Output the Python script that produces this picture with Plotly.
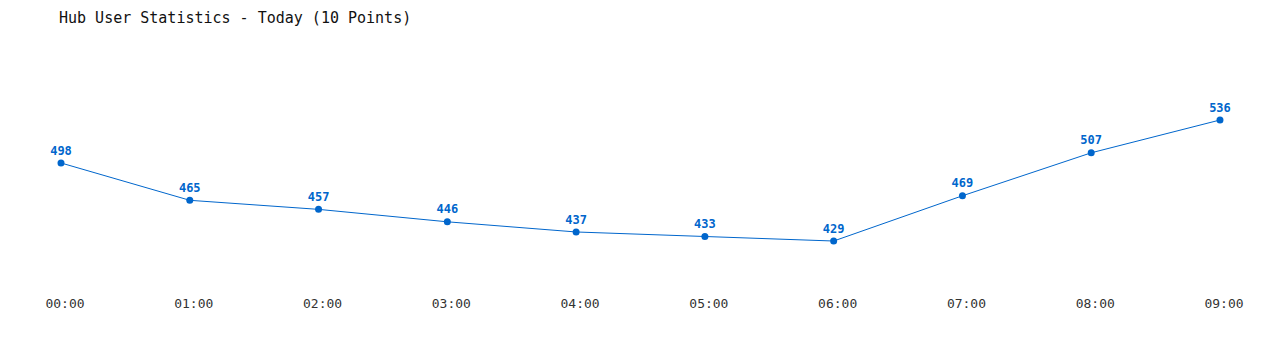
import plotly.graph_objects as go

hours = ["00:00", "01:00", "02:00", "03:00", "04:00", "05:00", "06:00", "07:00", "08:00", "09:00"]
users = [498, 465, 457, 446, 437, 433, 429, 469, 507, 536]
title_text = "Hub User Statistics - Today (10 Points)"

xs = list(range(len(hours)))
BLUE = "#0066cc"
MONO = "DejaVu Sans Mono, Liberation Mono, monospace"

fig = go.Figure()
fig.add_trace(go.Scatter(
    x=xs, y=users, mode="lines+markers+text",
    line=dict(color=BLUE, width=1),
    marker=dict(color=BLUE, size=7),
    text=[f"<b>{v}</b>" for v in users],
    textposition="top center",
    textfont=dict(family=MONO, size=12, color=BLUE),
    cliponaxis=False,
    hoverinfo="skip",
))

fig.update_layout(
    width=1280, height=350,
    margin=dict(l=0, r=0, t=60, b=60),
    paper_bgcolor="white", plot_bgcolor="white",
    showlegend=False,
    title=dict(text=title_text, x=0, xref="paper", xanchor="left", y=1, yref="container",
               yanchor="top", pad=dict(l=59, t=12),
               font=dict(family=MONO, size=15, color="#111")),
    xaxis=dict(range=[-0.4737, 9.466], tickvals=xs, ticktext=hours, showgrid=False,
               zeroline=False, showline=False, ticks="", ticklabelshift=4,
               ticklabelstandoff=4,
               tickfont=dict(family=MONO, size=13, color="#333")),
    yaxis=dict(range=[385.7, 589.05], visible=False, showgrid=False, zeroline=False),
)

fig.write_html("out.html")
